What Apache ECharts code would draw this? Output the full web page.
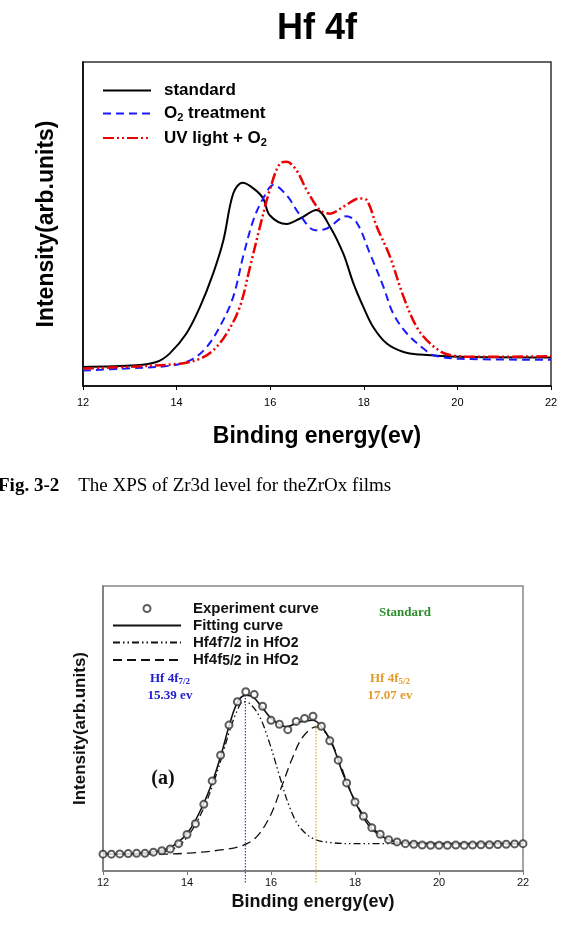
<!DOCTYPE html>
<html>
<head>
<meta charset="utf-8">
<script src="https://cdn.jsdelivr.net/npm/echarts@6/dist/echarts.min.js"></script>
<style>
  html, body { margin: 0; padding: 0; background: #fff; }
  #chart { width: 578px; height: 949px; }
</style>
</head>
<body>
<div id="chart"></div>
<script>
// 上图：Hf 4f 三条谱线
const stdEnergy = [12, 13.14, 13.57, 13.85, 14.21, 14.5, 14.78, 15.0, 15.21, 15.41, 15.64, 15.85, 15.99, 16.35, 16.64, 16.99, 17.28, 17.56, 17.78, 17.99, 18.2, 18.49, 18.85, 19.2, 20.06, 22];
const stdIntensity = [5.9, 6.4, 7.4, 10, 16.2, 24.4, 34.7, 45, 59.4, 62.7, 61, 57.9, 52.7, 50, 51.7, 54.3, 49.1, 40.9, 31.6, 24.4, 18.2, 13.1, 10.5, 9.7, 9.0, 8.8];

const o2Energy = [12, 12.93, 13.93, 14.35, 14.64, 14.92, 15.21, 15.42, 15.64, 15.85, 16.07, 16.35, 16.64, 16.96, 17.21, 17.63, 17.85, 18.13, 18.42, 18.63, 18.92, 19.28, 19.49, 20.06, 22];
const o2Intensity = [4.8, 5.4, 6.4, 8.4, 12, 18.2, 27.5, 39.9, 51.2, 57.9, 62, 58.9, 52.7, 48.1, 48.6, 52.4, 50.4, 40.9, 30.6, 22.3, 16.2, 11.5, 9.5, 8.4, 8.1];

const uvEnergy = [12, 12.93, 14.07, 14.5, 14.78, 15.07, 15.35, 15.57, 15.78, 15.99, 16.21, 16.35, 16.56, 16.78, 17.06, 17.28, 17.56, 17.92, 18.06, 18.28, 18.56, 18.85, 19.13, 19.42, 19.78, 20.42, 22];
const uvIntensity = [5.4, 5.9, 6.9, 8.4, 11, 16.2, 24.4, 36.8, 49.1, 60.5, 68.7, 69.2, 66.6, 60.5, 54.3, 53.2, 55.3, 57.9, 57.4, 49.1, 39.9, 27.5, 18.2, 13.1, 9.8, 9.0, 9.2];

// 下图：拟合
const expEnergy = [12, 12.2, 12.4, 12.6, 12.8, 13, 13.2, 13.4, 13.6, 13.8, 14, 14.2, 14.4, 14.6, 14.8, 15, 15.2, 15.4, 15.6, 15.8, 16, 16.2, 16.4, 16.6, 16.8, 17, 17.2, 17.4, 17.6, 17.8, 18, 18.2, 18.4, 18.6, 18.8, 19, 19.2, 19.4, 19.6, 19.8, 20, 20.2, 20.4, 20.6, 20.8, 21, 21.2, 21.4, 21.6, 21.8, 22];
const expIntensity = [5.9, 5.9, 6.0, 6.1, 6.2, 6.2, 6.6, 7.1, 7.7, 9.6, 12.8, 16.6, 23.4, 31.6, 40.6, 51.2, 59.4, 62.9, 61.9, 57.8, 52.9, 51.5, 49.6, 52.5, 53.5, 54.3, 50.8, 45.7, 38.9, 30.9, 24.2, 19.2, 15.2, 12.9, 11.0, 10.2, 9.6, 9.4, 9.1, 9.0, 9.0, 9.0, 9.1, 9.0, 9.1, 9.2, 9.2, 9.3, 9.4, 9.5, 9.6];

const fitEnergy = [12, 12.87, 13.43, 13.75, 14.06, 14.38, 14.62, 14.82, 15.02, 15.21, 15.4, 15.57, 15.81, 16.05, 16.37, 16.68, 17.0, 17.24, 17.48, 17.71, 17.95, 18.19, 18.43, 18.83, 19.22, 22];
const fitIntensity = [5.9, 6.3, 7.3, 9.6, 14.3, 23.1, 31.9, 41.2, 51.8, 59.4, 61.7, 61.1, 57, 52.9, 50.6, 52.3, 52.9, 50, 43.6, 34.2, 26, 19, 14.3, 10.8, 9.8, 9.6];

const p72Energy = [12, 13.27, 13.75, 14.06, 14.38, 14.62, 14.82, 15.02, 15.21, 15.33, 15.49, 15.73, 15.97, 16.21, 16.44, 16.68, 17.0, 17.4, 18.03, 22];
const p72Intensity = [5.9, 6.3, 8.4, 13.0, 21.5, 30.5, 39.5, 49.5, 56.8, 59.4, 58.8, 54.1, 44.7, 33, 22.5, 15.5, 11.4, 10, 9.6, 9.6];

const p52Energy = [12, 13.27, 14.06, 14.86, 15.33, 15.65, 15.97, 16.25, 16.52, 16.76, 17.08, 17.32, 17.56, 17.79, 18.03, 18.35, 18.67, 18.98, 19.62, 22];
const p52Intensity = [5.9, 5.9, 6.3, 7.5, 9, 11.9, 19, 29.5, 40, 47.1, 50.6, 48.2, 41.2, 31.9, 23.7, 16.6, 11.9, 10.2, 9.6, 9.6];

// 峰位竖线
const peakEnergy = [15.39, 17.07];
const peakTop = [61.7, 51.8];
const peakBottom = -4;

function zip(xs, ys) {
    return xs.map((x, i) => [x, ys[i]]);
}

const sans = 'Liberation Sans, Arial, sans-serif';
const serif = 'Liberation Serif, Times New Roman, serif';
// 图例里的线条不显示符号
const noMark = { color: 'rgba(0,0,0,0)', borderColor: 'rgba(0,0,0,0)', borderWidth: 0 };

const chart = echarts.init(document.getElementById('chart'), null, { renderer: 'canvas' });

const option = {
    backgroundColor: '#fff',
    animation: false,
    grid: [
        { left: 83, top: 62, width: 468, height: 324, show: true, borderColor: '#333', borderWidth: 1.5 },
        { left: 103, top: 586, width: 420, height: 285, show: true, borderColor: '#888', borderWidth: 1.5 }
    ],
    xAxis: [
        {
            gridIndex: 0, type: 'value', min: 12, max: 22, interval: 2,
            axisLine: { lineStyle: { color: '#000', width: 1.5 } },
            axisTick: { length: 4, lineStyle: { color: '#000' } },
            axisLabel: { color: '#000', fontSize: 11, fontFamily: sans, margin: 11 },
            splitLine: { show: false },
            name: 'Binding energy(ev)', nameLocation: 'middle', nameGap: 39,
            nameTextStyle: { color: '#000', fontSize: 23, fontWeight: 'bold', fontFamily: sans }
        },
        {
            gridIndex: 1, type: 'value', min: 12, max: 22, interval: 2,
            axisLine: { lineStyle: { color: '#777', width: 1.5 } },
            axisTick: { length: 4, lineStyle: { color: '#777' } },
            axisLabel: { color: '#111', fontSize: 11, fontFamily: sans, margin: 6 },
            splitLine: { show: false },
            name: 'Binding energy(ev)', nameLocation: 'middle', nameGap: 22,
            nameTextStyle: { color: '#111', fontSize: 18, fontWeight: 'bold', fontFamily: sans }
        }
    ],
    yAxis: [
        {
            gridIndex: 0, type: 'value', min: 0, max: 100,
            axisLine: { show: true, lineStyle: { color: '#000', width: 1.5 } },
            axisTick: { show: false }, axisLabel: { show: false }, splitLine: { show: false },
            name: 'Intensity(arb.units)', nameLocation: 'middle', nameGap: 25,
            nameTextStyle: { color: '#000', fontSize: 23, fontWeight: 'bold', fontFamily: sans }
        },
        {
            gridIndex: 1, type: 'value', min: 0, max: 100,
            axisLine: { show: true, lineStyle: { color: '#777', width: 1.5 } },
            axisTick: { show: false }, axisLabel: { show: false }, splitLine: { show: false },
            name: 'Intensity(arb.units)', nameLocation: 'middle', nameGap: 14,
            nameTextStyle: { color: '#111', fontSize: 17, fontWeight: 'bold', fontFamily: sans }
        }
    ],
    legend: [
        {
            data: [
                { name: 'standard', itemStyle: noMark },
                { name: 'O2 treatment', itemStyle: noMark },
                { name: 'UV light + O2', itemStyle: noMark }
            ],
            orient: 'vertical', left: 97, top: 77,
            itemWidth: 48, itemHeight: 14, itemGap: 6,
            formatter: function(name) {
                if (name === 'O2 treatment') return '{n|O}{s|2}{n| treatment}';
                if (name === 'UV light + O2') return '{n|UV light + O}{s|2}';
                return '{n|' + name + '}';
            },
            textStyle: {
                padding: [0, 0, 0, 8],
                rich: {
                    n: { fontSize: 17, fontWeight: 'bold', fontFamily: sans, color: '#000', lineHeight: 20 },
                    s: { fontSize: 11, fontWeight: 'bold', fontFamily: sans, color: '#000', lineHeight: 10, verticalAlign: 'bottom' }
                }
            }
        },
        {
            data: [
                { name: 'Experiment curve' },
                { name: 'Fitting curve', itemStyle: noMark },
                { name: 'Hf4f7/2 in HfO2', itemStyle: noMark },
                { name: 'Hf4f5/2 in HfO2', itemStyle: noMark }
            ],
            orient: 'vertical', left: 107, top: 596,
            itemWidth: 68, itemHeight: 7, itemGap: 2,
            formatter: function(name) {
                if (name === 'Hf4f7/2 in HfO2') return '{n|Hf4f}{s|7/2}{n| in HfO}{s|2}';
                if (name === 'Hf4f5/2 in HfO2') return '{n|Hf4f}{s|5/2}{n| in HfO}{s|2}';
                return '{n|' + name + '}';
            },
            textStyle: {
                padding: [0, 0, 0, 7],
                rich: {
                    n: { fontSize: 15, fontWeight: 'bold', fontFamily: sans, color: '#111', lineHeight: 16 },
                    s: { fontSize: 14, fontWeight: 'bold', fontFamily: sans, color: '#111', lineHeight: 10, verticalAlign: 'bottom' }
                }
            }
        }
    ],
    series: [
        {
            name: 'standard', type: 'line', xAxisIndex: 0, yAxisIndex: 0,
            data: zip(stdEnergy, stdIntensity), smooth: 0.35, symbol: 'none',
            lineStyle: { color: '#000', width: 2 }, itemStyle: { color: '#000' }
        },
        {
            name: 'O2 treatment', type: 'line', xAxisIndex: 0, yAxisIndex: 0,
            data: zip(o2Energy, o2Intensity), smooth: 0.35, symbol: 'none',
            lineStyle: { color: '#1a1aff', width: 2, type: [8, 5] }, itemStyle: { color: '#1a1aff' }
        },
        {
            name: 'UV light + O2', type: 'line', xAxisIndex: 0, yAxisIndex: 0,
            data: zip(uvEnergy, uvIntensity), smooth: 0.35, symbol: 'none',
            lineStyle: { color: '#ee0000', width: 2.5, type: [11, 3, 2, 3, 2, 3] }, itemStyle: { color: '#ee0000' }
        },
        {
            name: 'Fitting curve', type: 'line', xAxisIndex: 1, yAxisIndex: 1,
            data: zip(fitEnergy, fitIntensity), smooth: 0.35, symbol: 'none',
            lineStyle: { color: '#111', width: 1.6 }, itemStyle: { color: '#111' }
        },
        {
            name: 'Hf4f7/2 in HfO2', type: 'line', xAxisIndex: 1, yAxisIndex: 1,
            data: zip(p72Energy, p72Intensity), smooth: 0.35, symbol: 'none',
            lineStyle: { color: '#111', width: 1.3, type: [7, 3, 1.5, 3, 1.5, 3] }, itemStyle: { color: '#111' }
        },
        {
            name: 'Hf4f5/2 in HfO2', type: 'line', xAxisIndex: 1, yAxisIndex: 1,
            data: zip(p52Energy, p52Intensity), smooth: 0.35, symbol: 'none',
            lineStyle: { color: '#111', width: 1.3, type: [9, 5] }, itemStyle: { color: '#111' }
        },
        {
            name: 'Experiment curve', type: 'scatter', xAxisIndex: 1, yAxisIndex: 1,
            data: zip(expEnergy, expIntensity), symbol: 'emptyCircle', symbolSize: 7,
            itemStyle: { color: '#333', borderWidth: 0.8 }, z: 5
        },
        {
            name: 'peak72', type: 'line', xAxisIndex: 1, yAxisIndex: 1, clip: false, silent: true,
            data: [[peakEnergy[0], peakBottom], [peakEnergy[0], peakTop[0]]], symbol: 'none',
            lineStyle: { color: '#3a3aff', width: 1.2, type: [1.5, 1.5] }, z: 4
        },
        {
            name: 'peak52', type: 'line', xAxisIndex: 1, yAxisIndex: 1, clip: false, silent: true,
            data: [[peakEnergy[1], peakBottom], [peakEnergy[1], peakTop[1]]], symbol: 'none',
            lineStyle: { color: '#f0a020', width: 1.2, type: [1.5, 1.5] }, z: 4
        }
    ],
    graphic: [
        {
            type: 'text', x: 317, y: 29, z: 10,
            style: { text: 'Hf 4f', align: 'center', verticalAlign: 'middle', fontSize: 36, fontWeight: 'bold', fontFamily: sans, fill: '#000' }
        },
        {
            type: 'text', x: -2, y: 486, z: 10,
            style: {
                text: '{b|Fig. 3-2}{r|    The XPS of Zr3d level for theZrOx films}',
                verticalAlign: 'middle',
                rich: {
                    b: { fontSize: 19, fontWeight: 'bold', fontFamily: serif, fill: '#000' },
                    r: { fontSize: 19, fontFamily: serif, fill: '#000' }
                }
            }
        },
        {
            type: 'text', x: 405, y: 613, z: 10,
            style: { text: 'Standard', align: 'center', verticalAlign: 'middle', fontSize: 13, fontWeight: 'bold', fontFamily: serif, fill: '#2e8b2e' }
        },
        {
            type: 'text', x: 170, y: 679, z: 10,
            style: {
                text: '{n|Hf 4f}{s|7/2}', align: 'center', verticalAlign: 'middle',
                rich: {
                    n: { fontSize: 13, fontWeight: 'bold', fontFamily: serif, fill: '#2020d0', lineHeight: 14 },
                    s: { fontSize: 9, fontWeight: 'bold', fontFamily: serif, fill: '#2020d0', lineHeight: 8, verticalAlign: 'bottom' }
                }
            }
        },
        {
            type: 'text', x: 170, y: 696, z: 10,
            style: { text: '15.39 ev', align: 'center', verticalAlign: 'middle', fontSize: 13, fontWeight: 'bold', fontFamily: serif, fill: '#2020d0' }
        },
        {
            type: 'text', x: 390, y: 679, z: 10,
            style: {
                text: '{n|Hf 4f}{s|5/2}', align: 'center', verticalAlign: 'middle',
                rich: {
                    n: { fontSize: 13, fontWeight: 'bold', fontFamily: serif, fill: '#e59a2a', lineHeight: 14 },
                    s: { fontSize: 9, fontWeight: 'bold', fontFamily: serif, fill: '#e59a2a', lineHeight: 8, verticalAlign: 'bottom' }
                }
            }
        },
        {
            type: 'text', x: 390, y: 696, z: 10,
            style: { text: '17.07 ev', align: 'center', verticalAlign: 'middle', fontSize: 13, fontWeight: 'bold', fontFamily: serif, fill: '#e59a2a' }
        },
        {
            type: 'text', x: 163, y: 779, z: 10,
            style: { text: '(a)', align: 'center', verticalAlign: 'middle', fontSize: 20, fontWeight: 'bold', fontFamily: serif, fill: '#111' }
        }
    ]
};

chart.setOption(option);
</script>
</body>
</html>
